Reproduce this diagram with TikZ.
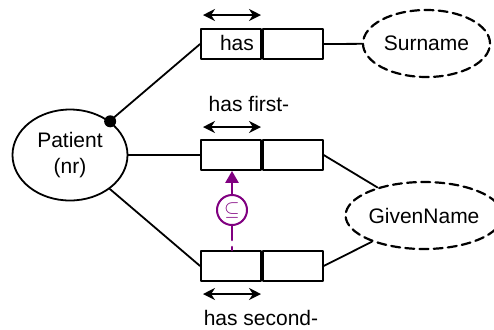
\documentclass[tikz,border=0pt]{standalone}
\usepackage{fontspec}
\setmainfont{Liberation Sans}
\usetikzlibrary{shapes.geometric,arrows.meta,positioning}
\definecolor{subsetviolet}{RGB}{128,0,128}
\begin{document}
\begin{tikzpicture}[x=0.5pt, y=-0.5pt, line cap=round, line join=round, >=Stealth,
    font=\fontsize{10.5}{13}\selectfont,
    cell/.style={draw, line width=0.9pt, minimum width=30pt, minimum height=15pt, inner sep=0pt},
    objtype/.style={draw, ellipse, line width=0.9pt, inner sep=0pt, align=center},
    valtype/.style={draw, ellipse, line width=1.1pt, dash pattern=on 4.5pt off 2.6pt, inner sep=0pt},
    uniq/.style={<->, line width=0.9pt, >={Stealth[length=6pt,width=6pt]}}]
    % picture window, in pixels of the reference
    \useasboundingbox (0,0) rectangle (494,329);

    % object type and value types
    \node[objtype, minimum width=57.5pt, minimum height=45.5pt] (patient) at (70,155) {Patient\\(nr)};
    \node[valtype, minimum width=63.5pt, minimum height=33.5pt] (surname) at (426.5,43.5) {Surname};
    \node[valtype, minimum width=76pt, minimum height=33.5pt] (given) at (424,215.5) {GivenName};

    % fact types, two roles each
    \node[cell] (hasL) at (231,44) {};
    \node[cell, right=0pt of hasL] (hasR) {};
    \node[cell] (firstL) at (231,155) {};
    \node[cell, right=0pt of firstL] (firstR) {};
    \node[cell] (secondL) at (231,266) {};
    \node[cell, right=0pt of secondL] (secondR) {};

    % readings
    \node at (237,43) {has};
    \node (firstlbl) at (249,104) {has first-};
    \node (secondlbl) at (261,318) {has second-};

    % uniqueness bars
    \draw[uniq] (203,15) -- (261,15);
    \draw[uniq] (203,127) -- (261,127);
    \draw[uniq] (203,294) -- (261,294);

    % role connectors
    \draw[line width=0.9pt] (patient) -- (hasL.west);
    \draw[line width=0.9pt] (patient) -- (firstL.west);
    \draw[line width=0.9pt] (patient) -- (secondL.west);
    \draw[line width=0.9pt] (hasR.east) -- (surname);
    \draw[line width=0.9pt] (firstR.east) -- (given);
    \draw[line width=0.9pt] (secondR.east) -- (given);

    % mandatory dot
    \fill (patient.40) circle (3pt);

    % subset constraint
    \node[draw=subsetviolet, circle, line width=1pt, minimum size=15pt, inner sep=0pt,
      text=subsetviolet, font=\fontsize{10}{10}\selectfont] (subset) at (232,210) {$\subseteq$};
    \draw[subsetviolet, line width=1.3pt, dash pattern=on 7pt off 3.5pt] (subset) -- (secondL.north -| subset);
    \draw[subsetviolet, line width=1.3pt, -{Triangle[length=6pt,width=6.5pt]}] (subset) -- (firstL.south -| subset);
\end{tikzpicture}
\end{document}
